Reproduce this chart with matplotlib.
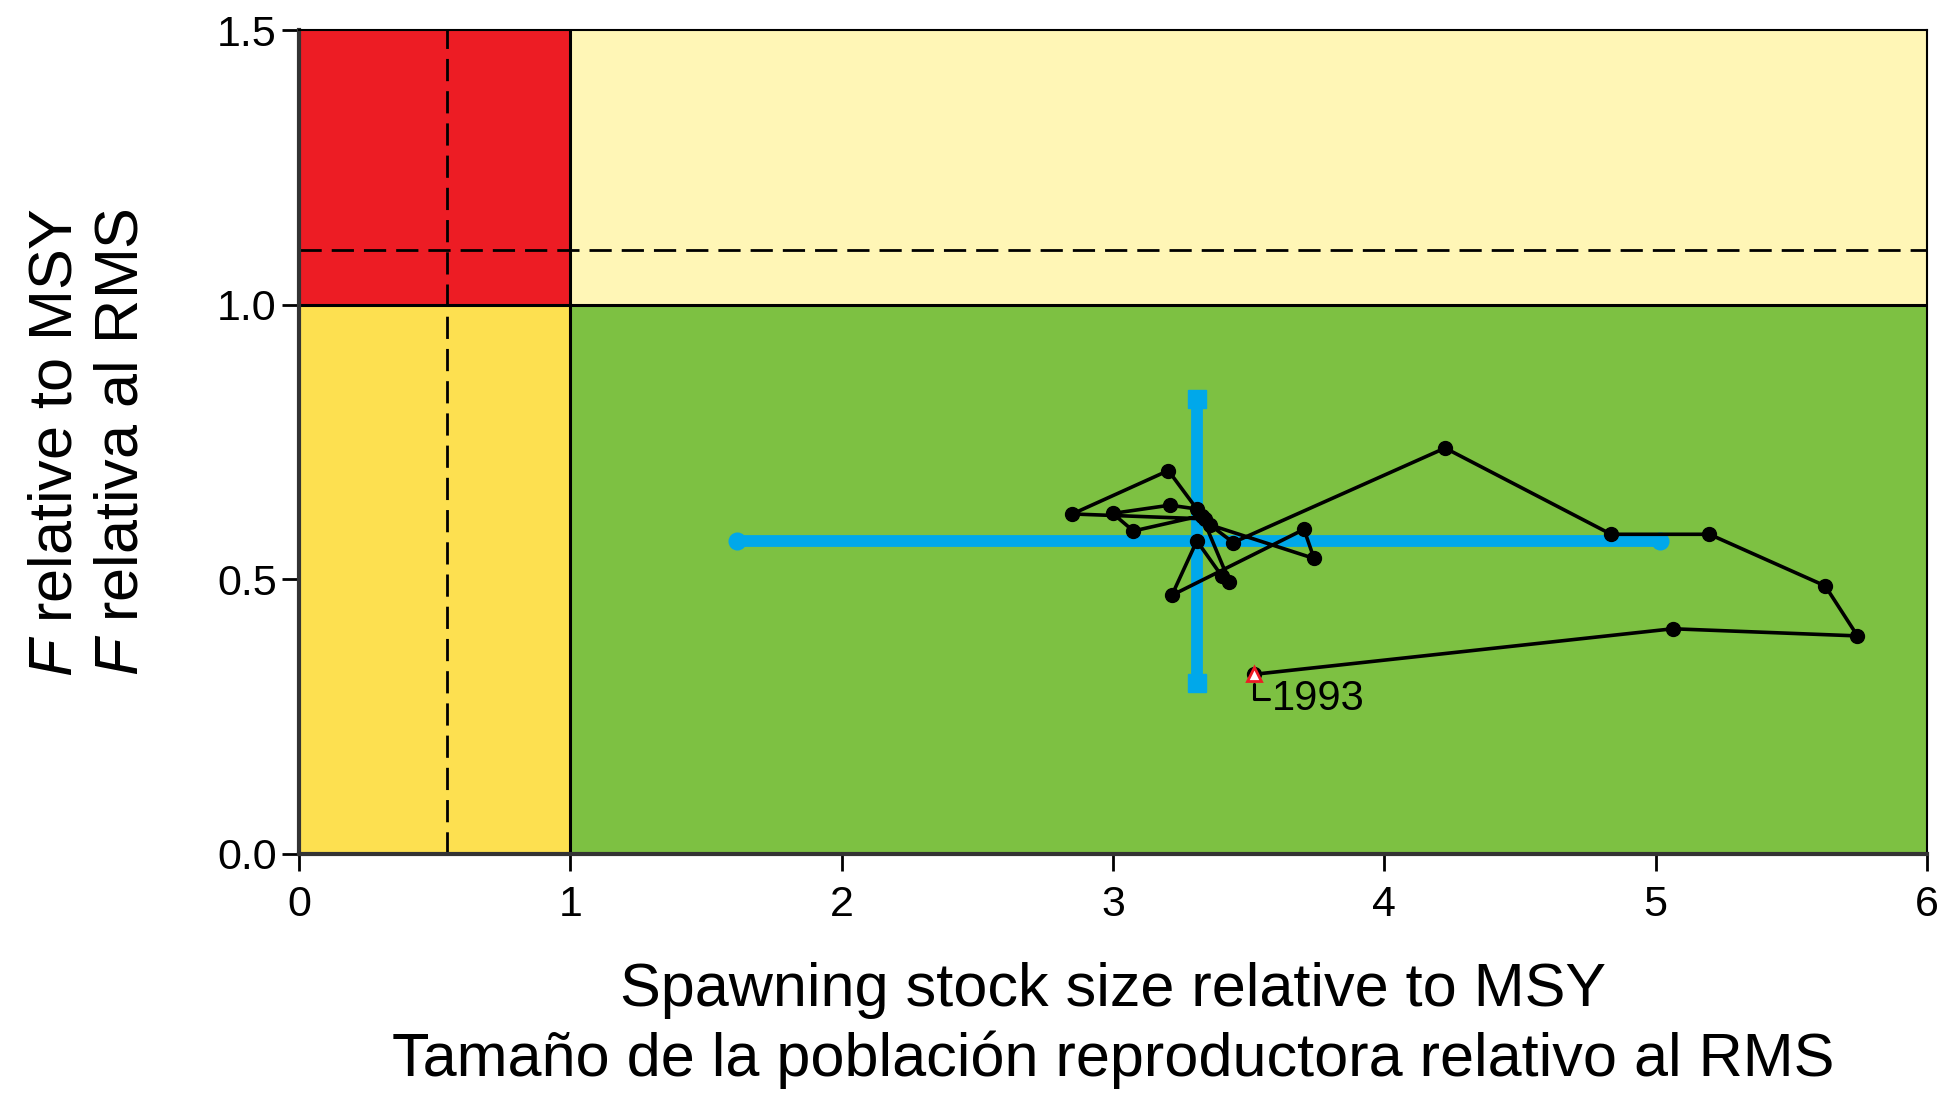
import matplotlib
matplotlib.use("Agg")
import matplotlib.pyplot as plt

# ---------------- DATA ----------------

# stock trajectory, 1993 onwards (B/Bmsy, F/Fmsy)
ssb_rel = [3.518, 5.063, 5.744, 5.625, 5.198, 4.836, 4.224, 3.443, 3.358, 3.741,
           3.704, 3.217, 3.309, 3.401, 3.429, 3.327, 3.075, 2.999, 3.210, 3.309,
           3.204, 2.850, 3.340]
f_rel = [0.327, 0.410, 0.397, 0.488, 0.582, 0.582, 0.739, 0.567, 0.599, 0.538,
         0.591, 0.471, 0.570, 0.506, 0.496, 0.616, 0.588, 0.620, 0.635, 0.628,
         0.698, 0.619, 0.610]
first_year = "1993"

# current estimate with confidence intervals
ssb_now = 3.309
f_now = 0.570
ssb_ci = [1.614, 5.016]
f_ci = [0.312, 0.828]

# reference points
b_msy = 1.0
f_msy = 1.0
b_limit = 0.545
f_limit = 1.1

x_max = 6
y_max = 1.5
x_ticks = [0, 1, 2, 3, 4, 5, 6]
y_ticks = [0.0, 0.5, 1.0, 1.5]

# colours
red = "#ED1C24"
pale_yellow = "#FFF6B6"
yellow = "#FDE050"
green = "#7DC142"
blue = "#00A8EA"

xlabel_text = "Spawning stock size relative to MSY\nTamaño de la población reproductora relativo al RMS"
ylabel_text = "$F$ relative to MSY\n$F$ relativa al RMS"

# ---------------- STYLE ----------------

plt.rcParams["font.family"] = ["Liberation Sans", "DejaVu Sans"]
plt.rcParams["mathtext.fontset"] = "custom"
plt.rcParams["mathtext.it"] = "Liberation Sans:italic"
plt.rcParams["mathtext.rm"] = "Liberation Sans"

fig = plt.figure(figsize=(19.47, 10.95), dpi=100)
ax = fig.add_axes([0.1536, 0.2201, 0.8361, 0.7525])

# ---------------- ZONES ----------------

ax.fill_between([0, b_msy], 0, f_msy, color=yellow, lw=0, zorder=0)
ax.fill_between([b_msy, x_max], 0, f_msy, color=green, lw=0, zorder=0)
ax.fill_between([0, b_msy], f_msy, y_max, color=red, lw=0, zorder=0)
ax.fill_between([b_msy, x_max], f_msy, y_max, color=pale_yellow, lw=0, zorder=0)

ax.axvline(b_msy, color="black", lw=2.2, zorder=1)
ax.axhline(f_msy, color="black", lw=2.2, zorder=1)
ax.axvline(b_limit, color="black", lw=2, dashes=(8, 3.6), zorder=1)
ax.axhline(f_limit, color="black", lw=2, dashes=(8, 3.6), zorder=1)

# ---------------- CONFIDENCE CROSS ----------------

ax.plot(ssb_ci, [f_now, f_now], color=blue, lw=8.5, marker="o", ms=12,
        solid_capstyle="round", zorder=2)
ax.plot([ssb_now, ssb_now], f_ci, color=blue, lw=8.5, marker="s", ms=13,
        solid_capstyle="round", zorder=2)

# ---------------- TRAJECTORY ----------------

ax.plot(ssb_rel, f_rel, color="black", lw=2.6, marker="o", ms=10, zorder=3)
ax.plot(ssb_rel[0], f_rel[0], marker="^", ms=10, mfc="white", mec=red, mew=2,
        ls="none", zorder=4)
ax.annotate(first_year, xy=(ssb_rel[0], f_rel[0]), xytext=(13, -18),
            textcoords="offset points", fontsize=30, ha="left", va="center",
            arrowprops=dict(arrowstyle="-", lw=2.2, color="black",
                            shrinkA=0, shrinkB=7,
                            connectionstyle="angle,angleA=0,angleB=90,rad=0"),
            zorder=4)

# ---------------- AXES ----------------

ax.set_xlim(0, x_max)
ax.set_ylim(0, y_max)
ax.set_xticks(x_ticks)
ax.set_yticks(y_ticks)
ax.set_yticklabels([f"{v:.1f}" for v in y_ticks])

ax.tick_params(axis="x", labelsize=31, length=12, width=2, pad=10)
ax.tick_params(axis="y", labelsize=31, length=12, width=2, pad=4)

for side in ["left", "bottom"]:
    ax.spines[side].set_linewidth(3)
    ax.spines[side].set_color("#333333")
for side in ["top", "right"]:
    ax.spines[side].set_linewidth(1.5)
    ax.spines[side].set_color("black")

ax.set_xlabel(xlabel_text, fontsize=44, labelpad=27, linespacing=1.25)
ax.set_ylabel(ylabel_text, fontsize=44, labelpad=48, linespacing=1.2)

fig.savefig("out.png", dpi=100)
